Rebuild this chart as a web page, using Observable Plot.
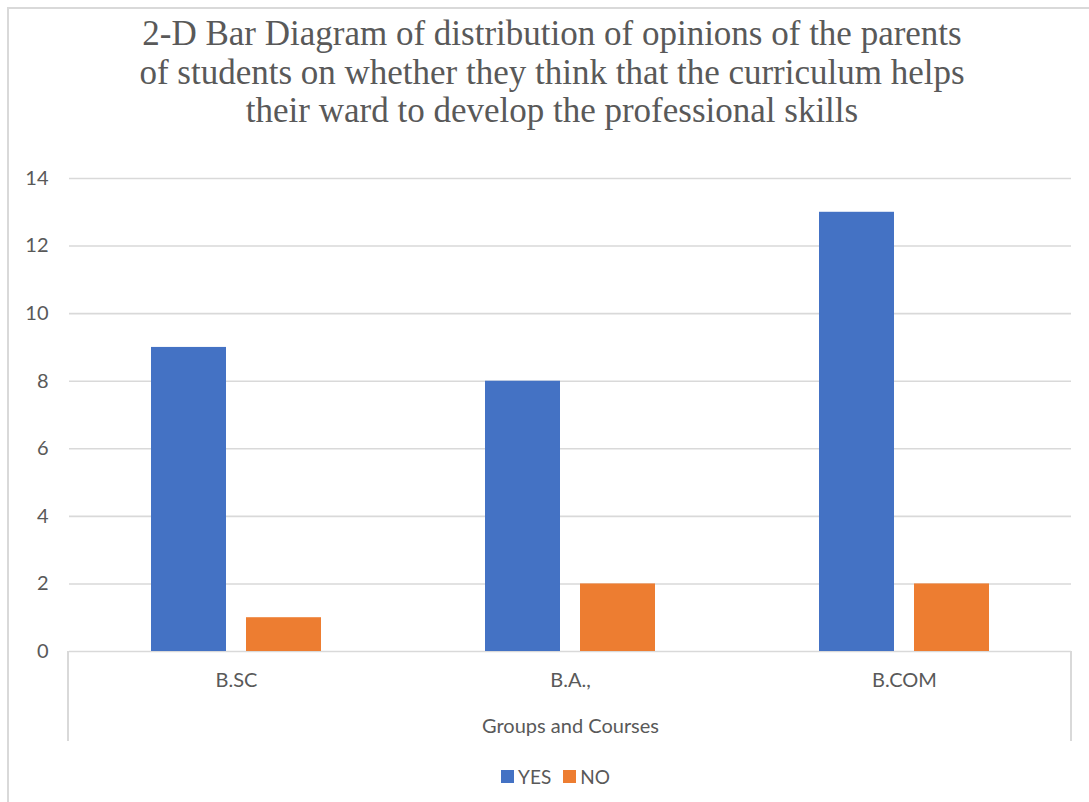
<!DOCTYPE html>
<html>
<head>
<meta charset="utf-8">
<script src="https://cdn.jsdelivr.net/npm/d3@7"></script>
<script src="https://cdn.jsdelivr.net/npm/@observablehq/plot@0.6"></script>
<style>
  html, body { margin: 0; padding: 0; background: #fff; }
  body { width: 1089px; height: 802px; overflow: hidden; position: relative; font-family: Lato, "Open Sans", sans-serif; }
  #frame { position: absolute; left: 7px; top: 7px; width: 1300px; height: 1000px; border-left: 2px solid #d9d9d9; border-top: 2px solid #d9d9d9; }
  #title { position: absolute; left: 15px; top: 15px; width: 1074px; text-align: center; font-family: "Liberation Serif", "Times New Roman", serif; font-size: 35px; line-height: 38.7px; color: #595959; }
  #chart { position: absolute; left: 0; top: 140px; }
  #table { position: absolute; left: 67px; top: 651px; width: 1001px; height: 90px; border-left: 2px solid #d9d9d9; border-right: 2px solid #d9d9d9; }
  #legend { position: absolute; left: 0; top: 765px; width: 1089px; display: flex; justify-content: center; padding-left: 22px; box-sizing: border-box; font-size: 19px; color: #595959; }
  .item { display: flex; align-items: center; margin: 0 6px; }
  .swatch { width: 13px; height: 13px; margin-right: 4px; }
</style>
</head>
<body>
<div id="frame"></div>
<div id="title">2-D Bar Diagram of distribution of opinions of the parents<br>of students on whether they think that the curriculum helps<br>their ward to develop the professional skills</div>
<div id="table"></div>
<div id="chart"></div>
<div id="legend"></div>
<script>
const categories = ["B.SC", "B.A.,", "B.COM"];
const series = ["YES", "NO"];
const yesValues = [9, 8, 13];
const noValues = [1, 2, 2];
const yTicks = [0, 2, 4, 6, 8, 10, 12, 14];
const seriesColors = ["#4472C4", "#ED7D31"];
const xTitle = "Groups and Courses";

const rows = [];
categories.forEach((c, i) => {
  rows.push({category: c, series: "YES", value: yesValues[i]});
  rows.push({category: c, series: "NO", value: noValues[i]});
});

const textColor = "#595959";
const plot = Plot.plot({
  width: 1089,
  height: 602,
  marginLeft: 68,
  marginRight: 18,
  marginTop: 38,
  marginBottom: 91,
  style: {fontFamily: "Lato, 'Open Sans', sans-serif", fontSize: "20px", color: textColor, background: "transparent"},
  fx: {domain: categories, padding: 0},
  x: {domain: series, paddingInner: 0.2105, paddingOuter: 0.863, axis: null},
  y: {domain: [0, 14]},
  color: {domain: series, range: seriesColors},
  marks: [
    Plot.gridY(yTicks, {stroke: "#d9d9d9", strokeOpacity: 1, strokeWidth: 1.6}),
    Plot.axisY(yTicks, {tickSize: 0, tickPadding: 21, label: null, fill: textColor, fontSize: 20}),
    Plot.axisFx({anchor: "bottom", tickSize: 0, tickPadding: 21, label: xTitle, labelAnchor: "center", labelOffset: 81, fill: textColor, fontSize: 20}),
    Plot.barY(rows, {fx: "category", x: "series", y: "value", fill: "series"})
  ]
});
document.getElementById("chart").appendChild(plot);

const legend = document.getElementById("legend");
series.forEach((s, i) => {
  const item = document.createElement("div");
  item.className = "item";
  const sw = document.createElement("div");
  sw.className = "swatch";
  sw.style.background = seriesColors[i];
  const label = document.createElement("span");
  label.textContent = s;
  item.appendChild(sw);
  item.appendChild(label);
  legend.appendChild(item);
});
</script>
</body>
</html>
